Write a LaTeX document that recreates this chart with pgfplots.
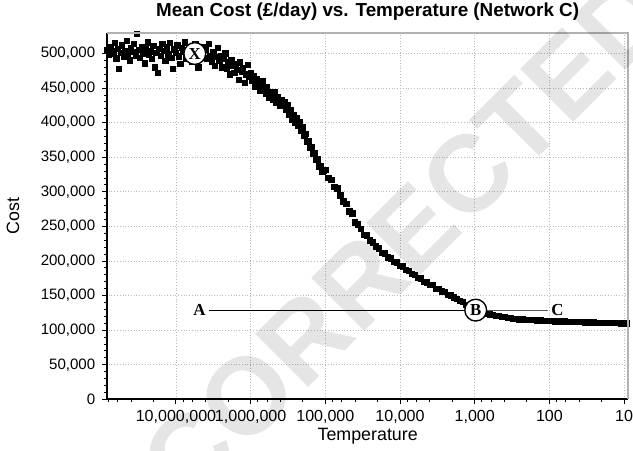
\documentclass[border=0pt]{standalone}
\usepackage{fontspec}
\setmainfont{Liberation Sans}
\newfontfamily\annotfont{Liberation Serif}
\usepackage{pgfplots}
\usepackage{pgfplotstable}
\pgfplotsset{compat=1.18}

% log10 of temperature, cost in thousands
\pgfplotstableread[row sep=\\]{
lt c\\
7.92 505\\ 7.90 498\\ 7.88 510\\ 7.86 500\\ 7.84 503\\ 7.82 515\\ 7.80 493\\ 7.78 507\\ 7.76 478\\ 7.74 501\\
7.72 512\\ 7.70 496\\ 7.68 504\\ 7.66 518\\ 7.64 499\\ 7.62 490\\ 7.60 508\\ 7.58 502\\ 7.56 514\\ 7.54 497\\
7.52 528\\ 7.50 505\\ 7.48 494\\ 7.46 510\\ 7.44 500\\ 7.42 486\\ 7.40 506\\ 7.38 516\\ 7.36 498\\ 7.34 503\\
7.32 492\\ 7.30 511\\ 7.28 480\\ 7.26 501\\ 7.24 472\\ 7.22 507\\ 7.20 497\\ 7.18 514\\ 7.16 504\\ 7.14 489\\
7.12 509\\ 7.10 499\\ 7.08 515\\ 7.06 494\\ 7.04 478\\ 7.02 506\\ 7.00 501\\ 6.98 512\\ 6.96 496\\ 6.94 485\\
6.92 508\\ 6.90 503\\ 6.88 516\\ 6.86 493\\ 6.84 505\\ 6.82 499\\ 6.80 510\\ 6.78 488\\ 6.76 502\\ 6.74 513\\
6.72 497\\ 6.70 480\\ 6.68 506\\ 6.66 500\\ 6.64 509\\ 6.62 494\\
6.60 505\\ 6.58 492\\ 6.56 514\\ 6.54 497\\ 6.52 488\\ 6.50 502\\ 6.48 482\\ 6.46 495\\ 6.44 508\\ 6.42 489\\
6.40 497\\ 6.38 480\\ 6.36 492\\ 6.34 500\\ 6.32 478\\ 6.30 487\\ 6.28 470\\ 6.26 490\\ 6.24 483\\ 6.22 472\\
6.20 485\\ 6.18 476\\ 6.16 462\\ 6.14 487\\ 6.12 474\\ 6.10 479\\ 6.08 458\\ 6.06 470\\ 6.04 484\\ 6.02 466\\
6.00 472\\ 5.98 460\\ 5.96 468\\ 5.94 452\\ 5.92 463\\ 5.90 458\\ 5.88 446\\ 5.86 455\\ 5.84 460\\ 5.82 447\\
5.80 442\\ 5.78 452\\ 5.76 436\\ 5.74 445\\ 5.72 440\\ 5.70 433\\ 5.68 444\\ 5.66 429\\ 5.64 437\\ 5.62 432\\
5.60 424\\
5.58 433\\ 5.56 424\\ 5.54 430\\ 5.52 419\\ 5.50 425\\ 5.48 412\\ 5.46 418\\ 5.44 405\\ 5.42 411\\ 5.40 400\\
5.38 406\\ 5.36 395\\ 5.34 401\\ 5.32 389\\ 5.30 393\\ 5.28 381\\ 5.26 384\\ 5.24 373\\ 5.22 374\\ 5.20 364\\
5.18 365\\ 5.16 355\\ 5.14 356\\ 5.12 346\\ 5.10 347\\ 5.08 337\\ 5.06 338\\ 5.04 329\\ 5.02 330\\
5.00 332\\ 4.96 320\\ 4.92 317\\ 4.88 307\\ 4.84 305\\ 4.80 295\\ 4.76 286\\ 4.72 283\\ 4.68 272\\ 4.64 269\\
4.60 256\\ 4.56 253\\ 4.52 246\\ 4.48 238\\ 4.44 237\\ 4.40 230\\ 4.36 227\\ 4.32 221\\ 4.28 218\\ 4.24 212\\
4.20 211\\ 4.16 205\\ 4.12 204\\ 4.08 199\\ 4.04 198\\ 4.00 193\\ 3.96 192\\ 3.92 187\\ 3.88 186\\ 3.84 181\\
3.80 180\\ 3.76 176\\ 3.72 175\\ 3.68 170\\ 3.64 169\\ 3.60 165\\ 3.56 165\\ 3.52 160\\ 3.48 160\\ 3.44 156\\
3.40 155\\ 3.36 151\\ 3.32 150.5\\ 3.28 147.5\\ 3.24 145.5\\ 3.20 142.5\\ 3.16 140.5\\ 3.12 136.5\\ 3.08 134.5\\ 3.04 130.5\\
3.00 129.5\\ 2.96 127\\ 2.92 126.5\\ 2.88 124.5\\ 2.84 124.3\\ 2.80 122.7\\ 2.76 122.2\\ 2.72 120.8\\ 2.68 120.4\\ 2.64 119.3\\
2.60 119.0\\ 2.56 117.8\\ 2.52 117.6\\ 2.48 116.6\\ 2.44 116.5\\ 2.40 115.7\\ 2.36 115.6\\ 2.32 115.0\\ 2.28 114.9\\ 2.24 114.4\\
2.20 114.4\\ 2.16 114.0\\ 2.12 114.0\\ 2.08 113.6\\ 2.04 113.6\\ 2.00 113.2\\ 1.96 113.2\\ 1.92 112.9\\ 1.88 112.9\\ 1.84 112.5\\
1.80 112.5\\ 1.76 112.1\\ 1.72 112.1\\ 1.68 111.8\\ 1.64 111.8\\ 1.60 111.5\\ 1.56 111.5\\ 1.52 111.2\\ 1.48 111.2\\ 1.44 110.9\\
1.40 111.0\\ 1.36 110.7\\ 1.32 110.8\\ 1.28 110.5\\ 1.24 110.6\\ 1.20 110.3\\ 1.16 110.4\\ 1.12 110.1\\ 1.08 110.2\\ 1.04 110.0\\
1.00 110.1\\ 0.96 110.0\\
}\costdata

\tikzset{letter/.style={font=\annotfont\bfseries\fontsize{8.5}{10}\selectfont},
  ring/.style={letter, circle, draw, fill=white, line width=0.7pt, inner sep=0pt, minimum size=11pt}}

\begin{document}
\begin{tikzpicture}
\begin{axis}[
    name=ax,
    scale only axis,
    width=263pt, height=185pt,
    xmode=log, x dir=reverse,
    xmin=8.8, xmax=8.35e7,
    ymin=0, ymax=530000,
    axis x line*=bottom, axis y line*=left,
    axis line style={-, line width=1pt, black},
    tick align=outside,
    major tick length=2.5pt, minor tick length=1.5pt,
    tick style={black, line width=0.5pt},
    xtick={10,100,1000,10000,100000,1000000,10000000},
    xticklabels={10,100,{1,000},{10,000},{100,000},{1,000,000},{10,000,000}},
    minor xtick={2e1,4e1,6e1,8e1,2e2,4e2,6e2,8e2,2e3,4e3,6e3,8e3,2e4,4e4,6e4,8e4,
        2e5,4e5,6e5,8e5,2e6,4e6,6e6,8e6,2e7,4e7,6e7,8e7},
    ytick={0,50000,100000,150000,200000,250000,300000,350000,400000,450000,500000},
    minor y tick num=4,
    scaled y ticks=false,
    yticklabel style={/pgf/number format/fixed, /pgf/number format/1000 sep={,},
        /pgf/number format/assume math mode=true, font=\fontsize{7.6}{9}\selectfont},
    xticklabel style={font=\fontsize{8.1}{9}\selectfont, inner xsep=0pt, yshift=0.5pt},
    grid=major,
    grid style={densely dotted, gray!55, line width=0.4pt},
    title={Mean Cost (£/day) vs. Temperature (Network C)},
    every axis title/.style={at={(0.5,1)}, anchor=south, inner sep=0pt, yshift=6pt,
        font=\fontsize{9.5}{11}\selectfont\bfseries},
    xlabel={Temperature}, ylabel={Cost},
    label style={font=\fontsize{9}{11}\selectfont},
    xlabel style={yshift=4.5pt},
    ylabel shift=4pt,
]
\addplot[only marks, mark=square*, mark size=1.35pt, black]
    table[x expr=10^\thisrow{lt}, y expr=\thisrow{c}*1000] {\costdata};

\coordinate (pA) at (axis cs:4.86e6,129000);
\coordinate (pB) at (axis cs:970,129000);
\coordinate (pC) at (axis cs:78,129000);
\coordinate (pX) at (axis cs:5.6e6,500000);
\coordinate (wm) at (axis cs:8470,234000);
\end{axis}
\draw[gray!60, line width=1pt] (ax.north west) -- (ax.north east) -- (ax.south east);
\node[letter, inner sep=1.5pt] (A) at (pA) {A};
\node[letter, inner sep=1.5pt] (C) at (pC) {C};
\draw[line width=0.6pt] (A.east) -- (pB);
\draw[line width=0.6pt, black!65] (pB) -- (C.west);
\node[ring] at (pB) {B};
\node[ring] at (pX) {X};
\node[overlay, rotate=45, opacity=0.1, font=\fontsize{55}{60}\selectfont\bfseries] at (wm) {CORRECTED};
\path ([yshift=1.5pt]current bounding box.north);
\end{tikzpicture}
\end{document}
